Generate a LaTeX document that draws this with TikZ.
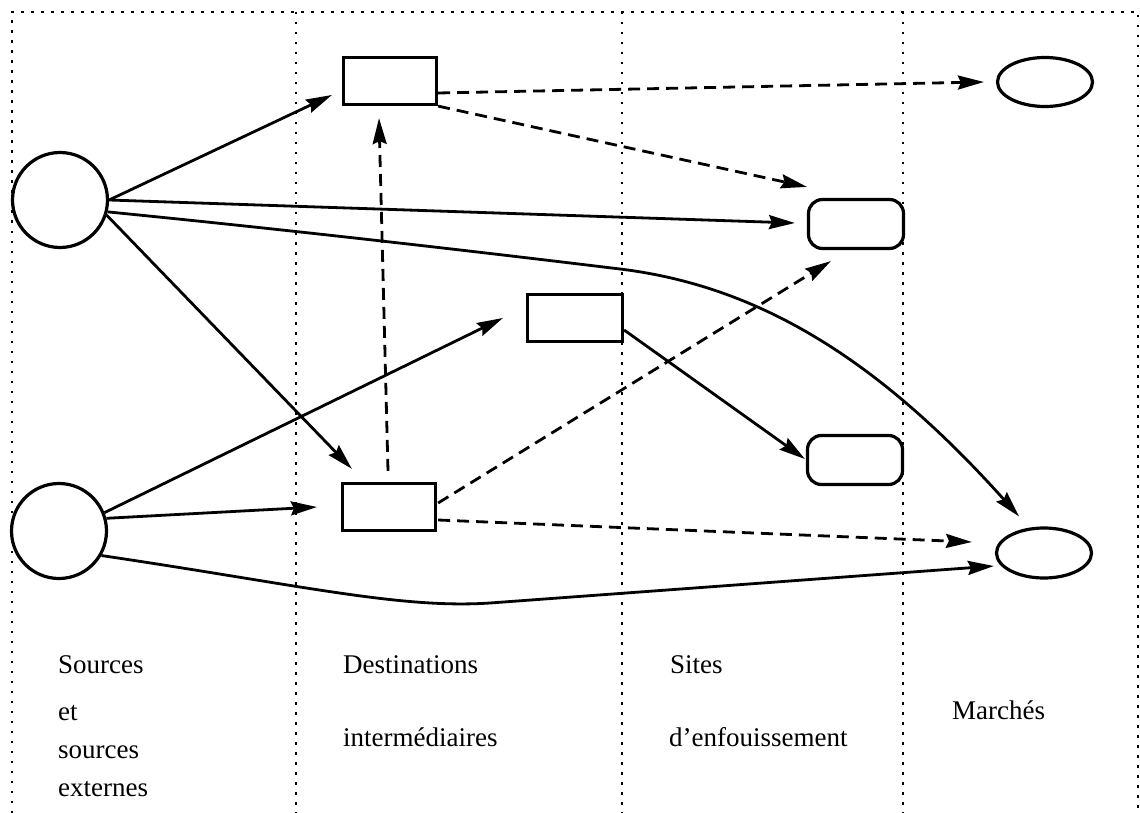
\documentclass[tikz,border=0pt]{standalone}
\usepackage{fontspec}
\setmainfont{Liberation Serif}
\usetikzlibrary{arrows.meta,shapes.geometric,calc}
\tikzset{
  frame/.style={line width=2.4pt, dash pattern=on 2.5pt off 7.5pt},
  nodeline/.style={draw, line width=3.2pt, inner sep=0pt},
  src/.style={nodeline, circle, minimum size=95pt},
  dest/.style={nodeline, rectangle, minimum width=93pt, minimum height=47pt},
  site/.style={nodeline, rectangle, rounded corners=14pt, minimum width=95pt, minimum height=49pt},
  mkt/.style={nodeline, ellipse, minimum width=95pt, minimum height=49pt},
  conn/.style={line width=2.8pt, -{Stealth[length=26pt,width=14pt,inset=3pt]}},
  dconn/.style={conn, dash pattern=on 12pt off 7pt},
  lbl/.style={anchor=base west, inner sep=0pt, font=\fontsize{27pt}{30pt}\selectfont}
}
\begin{document}
\begin{tikzpicture}[x=1pt,y=-1pt]
\useasboundingbox (0,0) rectangle (1140,813);
% frame and column dividers
\draw[frame] (12,813) -- (12,12) -- (1138,12) -- (1138,813);
\draw[frame] (296,12) -- (296,813);
\draw[frame] (622,12) -- (622,813);
\draw[frame] (903,12) -- (903,813);
% nodes
\node[src] (s1) at (60,200) {};
\node[src] (s2) at (59,531) {};
\node[dest] (dA) at (390,81) {};
\node[dest, minimum width=95pt] (dB) at (575,318) {};
\node[dest] (dC) at (389,507) {};
\node[site] (sD) at (856,224) {};
\node[site] (sE) at (855,460) {};
\node[mkt] (mF) at (1045,82) {};
\node[mkt, minimum height=50pt] (mG) at (1044,553) {};
% solid connectors
\draw[conn] (s1.east) -- ($(dA.west)+(-10,14)$);
\draw[conn] (s1.east) -- ($(sD.west)+(-12,-1)$);
\draw[conn] (s1.-14) .. controls (300,231) and (480,252) .. (620,269)
  .. controls (750,285) and (870,350) .. ($(mG.north)+(-25,-10)$);
\draw[conn] (s1.-18) -- ($(dC.north west)+(11,-13)$);
\draw[conn] (s2.22) -- ($(dB.west)+(-23,0)$);
\draw[conn] (s2.15) -- ($(dC.west)+(-24,0)$);
\draw[conn] (s2.-30) .. controls (300,585) and (400,609) .. (490,603)
  -- ($(mG.west)+(-1,13)$);
\draw[conn] ($(dB.east)+(0,12)$) -- ($(sE.west)+(-1,-1)$);
% dashed connectors
\draw[dconn] ($(dA.east)+(0,12)$) -- ($(mF.west)+(-12,0)$);
\draw[dconn] (dA.south east) -- ($(sD.north west)+(0,-11)$);
\draw[dconn] ($(dC.north)+(-1,-11)$) -- ($(dA.south)+(-11,12)$);
\draw[dconn] ($(dC.east)+(1,-4)$) -- ($(sD.south west)+(24,11)$);
\draw[dconn] ($(dC.east)+(1,13)$) -- ($(mG.west)+(-23,-11)$);
% labels
\node[lbl] (t1) at (58,673) {Sources};
\node[lbl] (t2) at (58,720) {et};
\node[lbl] (t3) at (58,758) {sources};
\node[lbl] (t4) at (58,796) {externes};
\node[lbl] (t5) at (343,673) {Destinations};
\node[lbl] (t6) at (343,746) {intermédiaires};
\node[lbl] (t7) at (670,673) {Sites};
\node[lbl] (t8) at (669,746) {d’enfouissement};
\node[lbl] (t9) at (952,719) {Marchés};
\end{tikzpicture}
\end{document}
